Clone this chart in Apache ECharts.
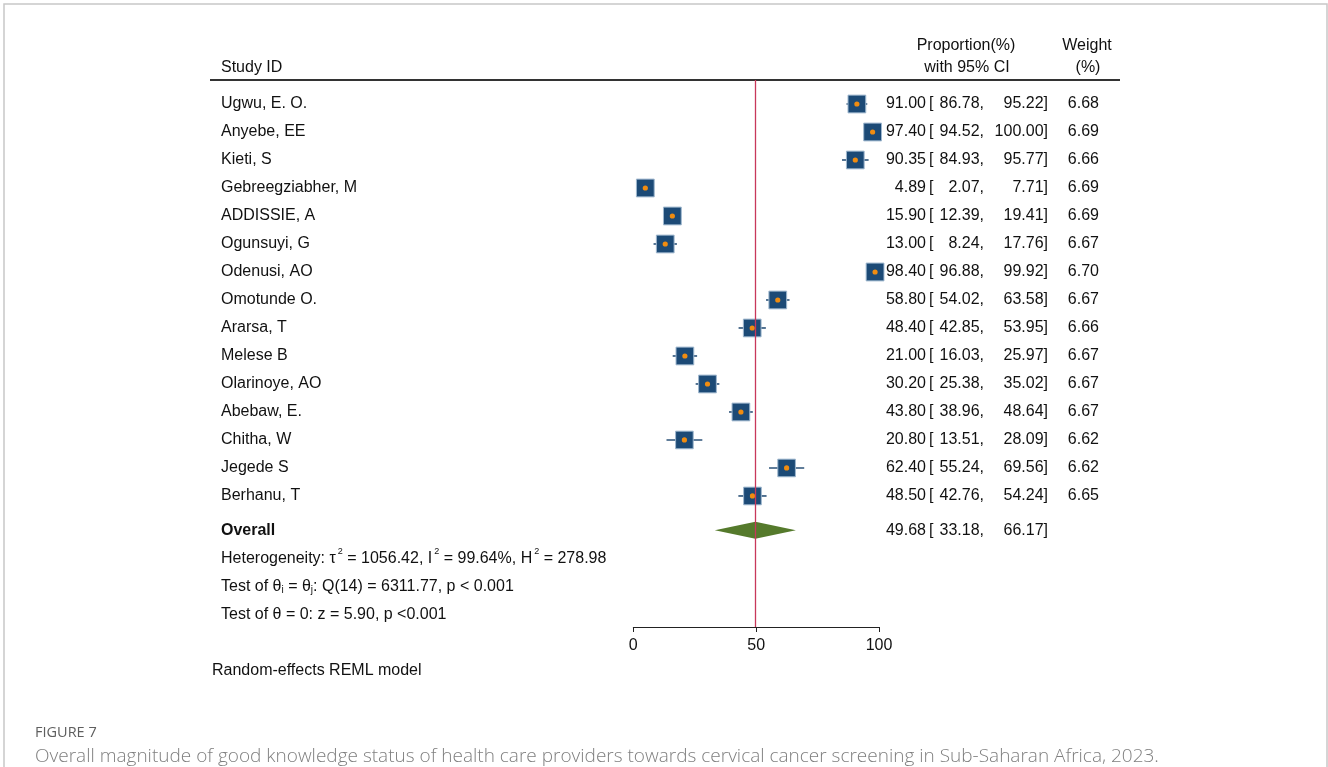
<!DOCTYPE html>
<html>
<head>
<meta charset="utf-8">
<script src="https://cdn.jsdelivr.net/npm/echarts@6/dist/echarts.min.js"></script>
<style>
html,body{margin:0;padding:0;background:#fff;}
#c{width:1328px;height:767px;}
</style>
</head>
<body>
<div id="c"></div>
<script>
const studies = ['Ugwu, E. O.','Anyebe, EE','Kieti, S','Gebreegziabher, M','ADDISSIE, A','Ogunsuyi, G','Odenusi, AO','Omotunde O.','Ararsa, T','Melese B','Olarinoye, AO','Abebaw, E.','Chitha, W','Jegede S','Berhanu, T'];
const est = [91.00, 97.40, 90.35, 4.89, 15.90, 13.00, 98.40, 58.80, 48.40, 21.00, 30.20, 43.80, 20.80, 62.40, 48.50];
const lo  = [86.78, 94.52, 84.93, 2.07, 12.39, 8.24, 96.88, 54.02, 42.85, 16.03, 25.38, 38.96, 13.51, 55.24, 42.76];
const hi  = [95.22, 100.00, 95.77, 7.71, 19.41, 17.76, 99.92, 63.58, 53.95, 25.97, 35.02, 48.64, 28.09, 69.56, 54.24];
const weights = [6.68, 6.69, 6.66, 6.69, 6.69, 6.67, 6.70, 6.67, 6.66, 6.67, 6.67, 6.67, 6.62, 6.62, 6.65];
const overall = [49.68, 33.18, 66.17];
const statLines = [
  'Heterogeneity: τ{sup|2} = 1056.42, I{sup|2} = 99.64%, H{sup|2} = 278.98',
  'Test of θ{sub|i} = θ{sub|j}: Q(14) = 6311.77, p < 0.001',
  'Test of θ = 0: z = 5.90, p <0.001'
];
const xTicks = [0, 50, 100];

const FONT = "'Liberation Sans', Arial, sans-serif";
const FS = 16;
const ROW_OVERALL = 15.22;
const ROW_STAT0 = 16.22;

const chart = echarts.init(document.getElementById('c'), null, {renderer: 'canvas'});

function txt(x, y, text, align, extra) {
  return {
    type: 'text',
    style: Object.assign({x: x, y: y, text: text, fill: '#111', font: FS + 'px ' + FONT,
      textAlign: align, textVerticalAlign: 'middle'}, extra || {})
  };
}

function ciTexts(y, e, l, h) {
  return [
    txt(926, y, e.toFixed(2), 'right'),
    txt(929, y, '[', 'left'),
    txt(984, y, l.toFixed(2) + ',', 'right'),
    txt(1048, y, h.toFixed(2) + ']', 'right')
  ];
}

const studyData = studies.map((s, i) => [est[i], i, lo[i], hi[i], weights[i]]);

const option = {
  animation: false,
  grid: {left: 633.3, width: 245.7, top: 80, height: 547, containLabel: false},
  xAxis: {
    type: 'value', min: 0, max: 100, interval: 50, position: 'bottom',
    axisLine: {show: true, onZero: false, lineStyle: {color: '#222', width: 1}},
    axisTick: {show: true, inside: false, length: 5, lineStyle: {color: '#222'}},
    axisLabel: {color: '#111', fontSize: FS, fontFamily: FONT, margin: 11,
      customValues: xTicks},
    splitLine: {show: false}
  },
  yAxis: {
    type: 'value', inverse: true, min: -24/28, max: 18.68,
    show: false
  },
  series: [
    {
      type: 'custom',
      clip: false,
      data: studyData,
      encode: {x: 0, y: 1},
      renderItem: function (params, api) {
        const row = api.value(1);
        const pE = api.coord([api.value(0), row]);
        const pL = api.coord([api.value(2), row]);
        const pH = api.coord([api.value(3), row]);
        const w = api.value(4);
        const s = 2.66 * w;
        const y = pE[1];
        const i = params.dataIndex;
        const children = [
          {type: 'line', shape: {x1: pL[0], y1: y, x2: pH[0], y2: y},
            style: {stroke: '#2b5278', lineWidth: 1.6}},
          {type: 'rect', shape: {x: pE[0] - s/2, y: y - s/2, width: s, height: s},
            style: {fill: '#1c4a76', stroke: '#9fb8cf', lineWidth: 1}},
          {type: 'circle', shape: {cx: pE[0], cy: y, r: 2.6},
            style: {fill: '#f08c10'}},
          txt(221, y, studies[i], 'left')
        ].concat(ciTexts(y, api.value(0), api.value(2), api.value(3)))
         .concat([txt(1099, y, w.toFixed(2), 'right')]);
        return {type: 'group', children: children};
      },
      markLine: {
        silent: true, symbol: 'none', label: {show: false},
        lineStyle: {color: '#c8385a', width: 1.3, type: 'solid'},
        data: [{xAxis: overall[0]}]
      },
      z: 3
    },
    {
      type: 'custom',
      clip: false,
      data: [[overall[0], ROW_OVERALL, overall[1], overall[2]]],
      encode: {x: 0, y: 1},
      renderItem: function (params, api) {
        const row = api.value(1);
        const pE = api.coord([api.value(0), row]);
        const pL = api.coord([api.value(2), row]);
        const pH = api.coord([api.value(3), row]);
        const y = pE[1];
        return {type: 'group', children: [
          {type: 'polygon', shape: {points: [[pL[0], y], [pE[0], y - 8.5], [pH[0], y], [pE[0], y + 8.5]]},
            style: {fill: '#557a2c'}},
          txt(221, y, 'Overall', 'left', {font: 'bold ' + FS + 'px ' + FONT})
        ].concat(ciTexts(y, api.value(0), api.value(2), api.value(3)))};
      },
      z: 2
    },
    {
      type: 'custom',
      clip: false,
      data: statLines.map((t, i) => [0, ROW_STAT0 + i]),
      encode: {x: 0, y: 1},
      renderItem: function (params, api) {
        const p = api.coord([0, api.value(1)]);
        return {
          type: 'text',
          style: {x: 221, y: p[1], text: statLines[params.dataIndex], fill: '#111',
            font: FS + 'px ' + FONT, textAlign: 'left', textVerticalAlign: 'middle',
            rich: {
              sub: {fontSize: 10, fontFamily: FONT, padding: [8, 0, 0, 0], fill: '#111'},
              sup: {fontSize: 9, fontFamily: FONT, padding: [0, 0, 14, 2], fill: '#111'}
            }}
        };
      }
    }
  ],
  graphic: [
    {type: 'rect', shape: {x: 4, y: 4, width: 1323, height: 800},
      style: {fill: 'none', stroke: '#c8c8c8', lineWidth: 1.5}, silent: true},
    {type: 'line', shape: {x1: 210, y1: 80, x2: 1120, y2: 80},
      style: {stroke: '#333', lineWidth: 2}},
    txt(221, 68, 'Study ID', 'left'),
    txt(966, 46, 'Proportion(%)', 'center'),
    txt(967, 68, 'with 95% CI', 'center'),
    txt(1087, 46, 'Weight', 'center'),
    txt(1088, 68, '(%)', 'center'),
    txt(212, 671, 'Random-effects REML model', 'left'),
    {type: 'text', style: {x: 35, y: 733, text: 'FIGURE 7', fill: '#5e5e5e',
      font: "14.5px 'Open Sans', sans-serif", textVerticalAlign: 'middle'}},
    {type: 'text', style: {x: 35, y: 757, text: 'Overall magnitude of good knowledge status of health care providers towards cervical cancer screening in Sub-Saharan Africa, 2023.',
      fill: '#7f7f7f', font: "300 19px 'Open Sans', sans-serif", textVerticalAlign: 'middle'}}
  ]
};
chart.setOption(option);
</script>
</body>
</html>
